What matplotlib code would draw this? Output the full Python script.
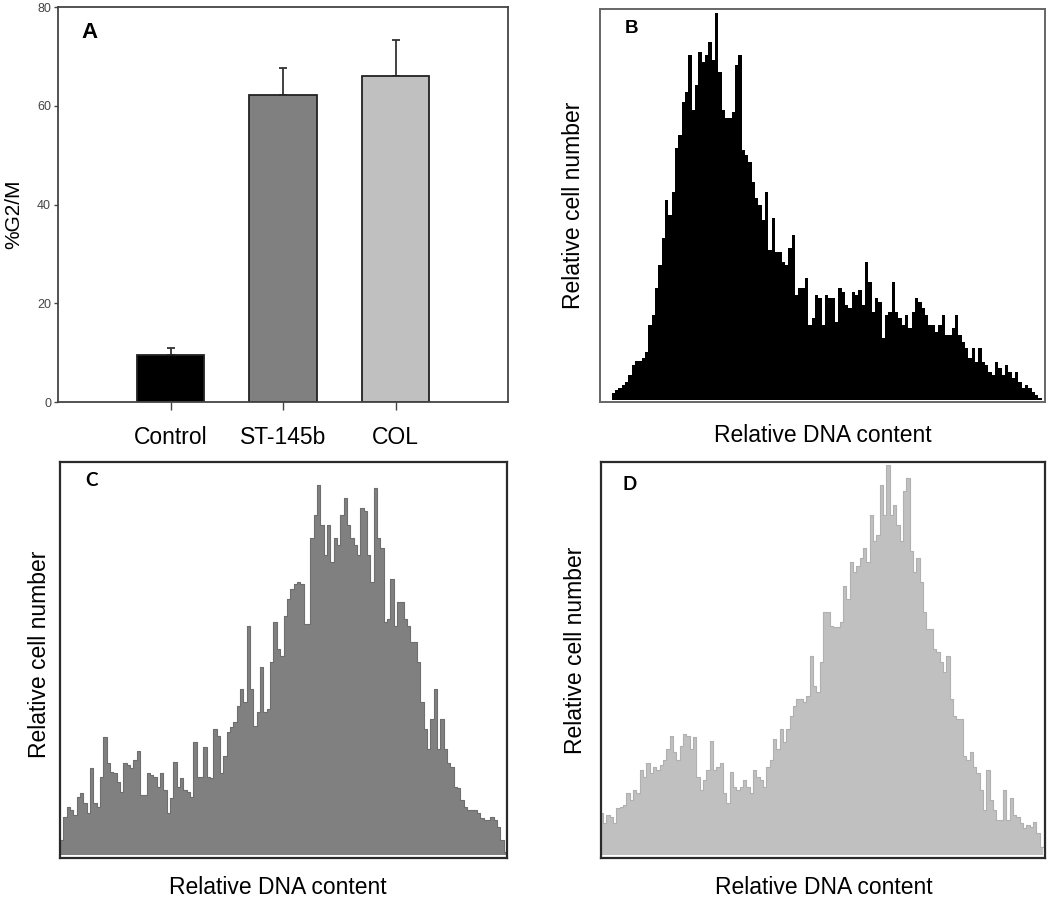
import numpy as np
import matplotlib
matplotlib.use("Agg")
import matplotlib.pyplot as plt

plt.rcParams['font.family'] = ['Liberation Sans', 'DejaVu Sans']

# ---- Panel A data ----
groups = ["Control", "ST-145b", "COL"]
g2m_mean = [9.6, 62.1, 66.1]
g2m_err = [1.3, 5.5, 7.3]
bar_colors = ["#000000", "#808080", "#c0c0c0"]
a_yticks = [0, 20, 40, 60, 80]

# ---- Panel B histogram (control), relative counts per channel ----
hist_b = [7, 10, 12, 15, 18, 25, 35, 39, 39, 42, 48, 75, 85, 112, 135, 162, 200, 185, 208, 252,
          265, 298, 308, 345, 290, 315, 348, 338, 345, 358, 340, 387, 328, 290, 282, 282, 288, 335, 345, 250,
          245, 238, 218, 202, 195, 180, 208, 150, 182, 148, 148, 138, 135, 152, 165, 105, 112, 112, 122, 75,
          82, 105, 102, 75, 105, 102,
          102, 78, 112, 108, 95, 92, 108, 105, 110, 95, 138, 118, 88, 102, 98, 62, 85, 88, 118, 88,
          82, 75, 85, 72, 88, 102, 98, 92, 85, 75, 75, 68, 75, 85, 65, 65, 72, 85, 65, 58,
          52, 42, 52, 38, 52, 38, 35, 28, 25, 38, 32, 25, 35, 28, 22, 28, 18, 12, 15, 12, 8, 5, 2]

# ---- Panel C histogram (ST-145b) ----
hist_c = [15, 38, 48, 45, 40, 58, 62, 52, 42, 87, 52, 48, 78, 117, 92, 83, 82, 73, 63, 92,
          90, 87, 95, 103, 60, 60, 82, 80, 78, 68, 82, 65, 42, 57, 93, 68, 77, 65, 63, 58,
          112, 78, 78, 107, 78, 77, 125, 118, 82, 98, 122, 127, 132, 148, 165, 152, 228, 165, 128, 142,
          187, 142, 145, 192, 232, 205, 198,
          238, 255, 265, 270, 272, 270, 230, 230, 315, 338, 368, 328, 298, 328, 292, 315, 308, 338, 355, 328,
          315, 308, 298, 345, 342, 298, 272, 365, 315, 305, 232, 235, 275, 228, 252, 252, 235, 228, 212, 212,
          192, 152, 125, 105, 135, 165, 105, 135, 105, 92, 88, 68, 67, 55, 48, 45, 45, 45, 42, 37,
          35, 35, 38, 35, 28, 15, 3]

# ---- Panel D histogram (COL) ----
hist_d = [42, 32, 40, 38, 32, 47, 48, 50, 62, 55, 65, 62, 85, 78, 92, 82, 88, 85, 90, 95,
          105, 118, 102, 95, 108, 120, 118, 105, 117, 78, 65, 75, 85, 113, 85, 88, 92, 62, 52, 83,
          68, 65, 68, 75, 68, 62, 85, 78, 75, 68, 88, 95, 115, 105, 125, 112, 125, 138, 148, 155,
          155, 152, 158, 198, 168, 162, 192, 242,
          242, 228, 227, 227, 232, 268, 255, 292, 282, 288, 295, 305, 292, 338, 312, 318, 368, 338, 388, 338,
          348, 328, 312, 362, 375, 302, 282, 295, 272, 242, 225, 225, 205, 202, 192, 182, 198, 155, 138, 135,
          135, 98, 95, 102, 88, 82, 65, 45, 85, 55, 45, 35, 35, 65, 35, 57, 40, 38, 32, 27,
          30, 28, 33, 22, 8]

xlabel_txt = "Relative DNA content"
ylabel_txt = "Relative cell number"

W, H = 1050, 901
fig = plt.figure(figsize=(W / 100, H / 100), dpi=100)


def rect(x0, y0, x1, y1):
    return [x0 / W, 1 - y1 / H, (x1 - x0) / W, (y1 - y0) / H]


# ---------------- Panel A ----------------
axA = fig.add_axes(rect(58, 7, 508, 402))
xpos = np.arange(1, len(groups) + 1)
axA.bar(xpos, g2m_mean, width=0.6, color=bar_colors, edgecolor="#222222", linewidth=1.3, zorder=2)
axA.errorbar(xpos, g2m_mean, yerr=[np.zeros(len(groups)), g2m_err], fmt="none",
             ecolor="#333333", elinewidth=1.3, capsize=3, capthick=1.3, zorder=1)
axA.set_xlim(0, 4)
axA.set_ylim(0, 80)
axA.set_yticks(a_yticks)
axA.set_yticklabels([str(v) for v in a_yticks], fontsize=9, color="#444444")
axA.set_xticks(xpos)
axA.set_xticklabels(groups, fontsize=16.5)
axA.tick_params(axis="y", direction="out", length=3, width=1, color="#444444", pad=2)
axA.tick_params(axis="x", direction="out", length=6, width=1, color="#444444", pad=11)
for s in axA.spines.values():
    s.set_color("#444444")
    s.set_linewidth(1.3)
fig.text(14 / W, 1 - 214 / H, "%G2/M", rotation=90, fontsize=15, ha="center", va="center")
axA.text(0.07, 0.935, "A", transform=axA.transAxes, fontsize=16, fontweight="bold",
         ha="center", va="center")


def hist_panel(box, data, color, edge, letter, letter_xy, xlim, ylim, border_color, border_lw,
               ylab_xy, xlab_xy, letter_font):
    ax = fig.add_axes(rect(*box))
    h = np.asarray(data, dtype=float)
    edges = np.arange(len(h) + 1)
    yy = np.append(h, h[-1])
    ax.fill_between(edges, yy, 0, step="post", color=color, linewidth=0, zorder=1)
    if edge is not None:
        ax.step(edges, yy, where="post", color=edge, linewidth=0.8, zorder=2)
    ax.set_xlim(*xlim)
    ax.set_ylim(*ylim)
    ax.set_xticks([])
    ax.set_yticks([])
    for s in ax.spines.values():
        s.set_color(border_color)
        s.set_linewidth(border_lw)
    x0, y0, x1, y1 = box
    ax.text((letter_xy[0] - x0) / (x1 - x0), 1 - (letter_xy[1] - y0) / (y1 - y0), letter,
            transform=ax.transAxes, fontsize=13.5, fontweight="bold", family=letter_font,
            ha="center", va="center")
    fig.text(ylab_xy[0] / W, 1 - ylab_xy[1] / H, ylabel_txt, rotation=90, fontsize=16.5,
             ha="center", va="center")
    fig.text(xlab_xy[0] / W, 1 - xlab_xy[1] / H, xlabel_txt, fontsize=16.5,
             ha="center", va="center")
    return ax


hist_panel((600, 9, 1045, 402), hist_b, "#000000", None, "B", (631, 28),
           (-3.5, len(hist_b) + 1.0), (-2, 391), "#666666", 1.4,
           (573, 205), (823, 435), ["Liberation Sans"])
hist_panel((60, 462, 507, 858), hist_c, "#808080", "#6e6e6e", "C", (91, 481),
           (0, len(hist_c)), (-3, 391), "#2a2a2a", 1.6,
           (40, 654), (278, 887), ["Lato", "DejaVu Sans"])
hist_panel((601, 462, 1045, 858), hist_d, "#c0c0c0", "#b0b0b0", "D", (630, 485),
           (0.4, len(hist_d) + 0.6), (-3, 391), "#2a2a2a", 1.6,
           (575, 650), (824, 887), ["Lato", "DejaVu Sans"])

fig.savefig("out.png", dpi=100, facecolor="white")
